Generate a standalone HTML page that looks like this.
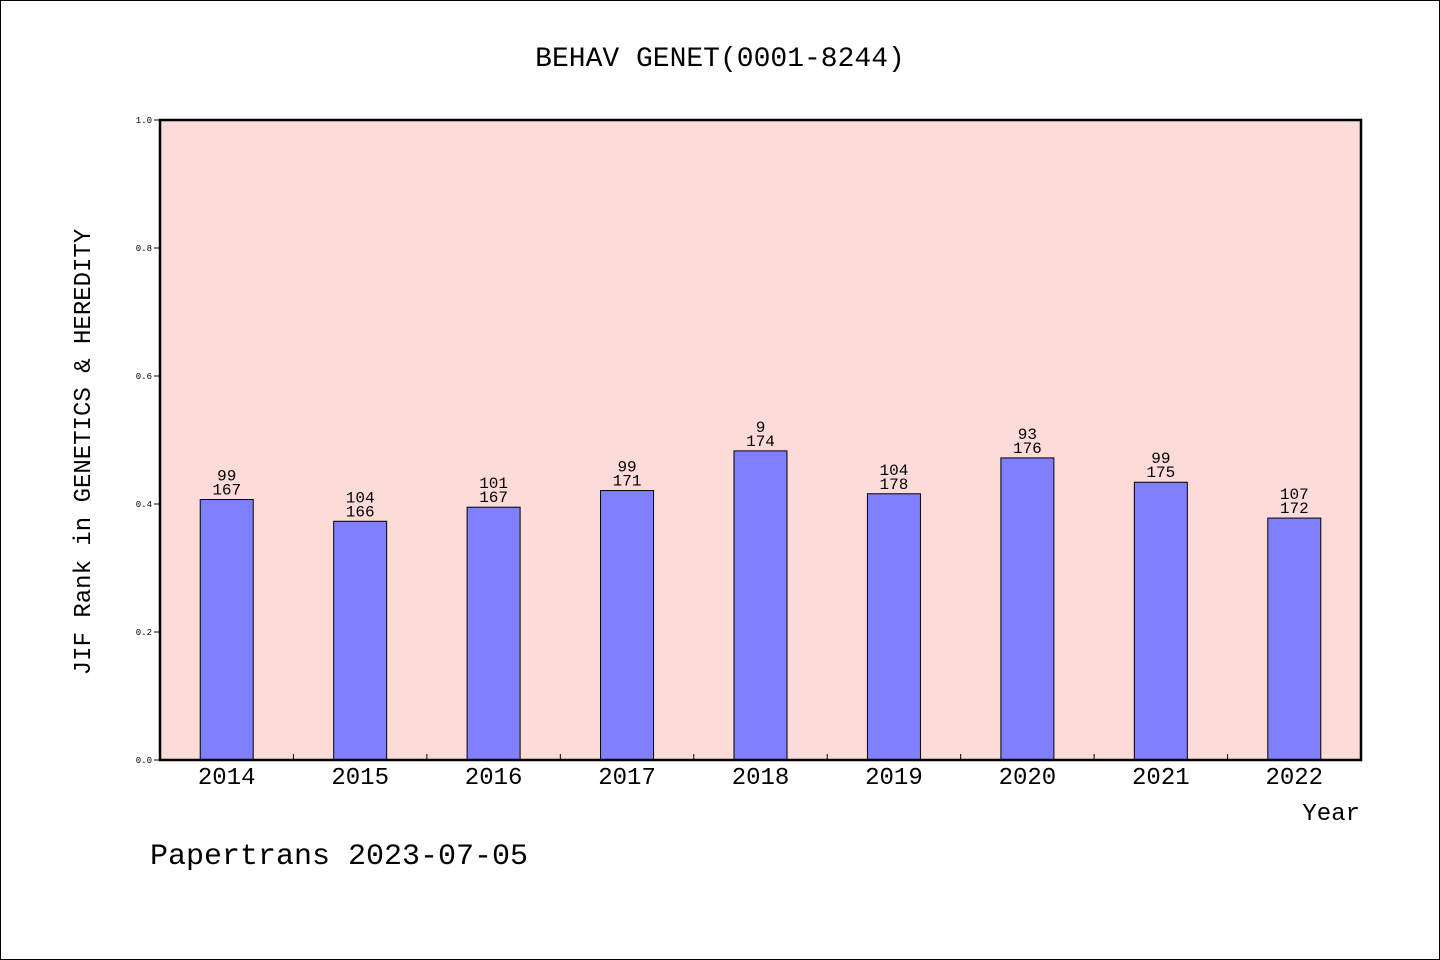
<!DOCTYPE html>
<html><head><meta charset="utf-8"><style>
body{margin:0;background:#fff}
svg{display:block}
text{font-family:"WenQuanYi Zen Hei","Liberation Mono",monospace;fill:#000}
</style></head><body>
<svg width="1440" height="960" id="c">
<rect x="0.5" y="0.5" width="1439" height="959" fill="#fff" stroke="#000"/>
<text x="720" y="66" font-size="28" text-anchor="middle">BEHAV GENET(0001-8244)</text>
<rect x="160" y="120" width="1201" height="640" fill="#fddbd8"/>
<g id="bars"></g>
<rect x="160" y="120" width="1201" height="640" fill="none" stroke="#000" stroke-width="2.5"/>
<text transform="translate(90,452) rotate(-90)" font-size="24" text-anchor="middle">JIF Rank in GENETICS &amp; HEREDITY</text>
<text x="1360" y="820" font-size="24" text-anchor="end">Year</text>
<text x="150" y="864" font-size="30">Papertrans 2023-07-05</text>
</svg>
<script>
const years=["2014","2015","2016","2017","2018","2019","2020","2021","2022"];
const values=[0.407,0.373,0.395,0.421,0.483,0.416,0.472,0.434,0.378];
const ranks=["99","104","101","99","9","104","93","99","107"];
const totals=["167","166","167","171","174","178","176","175","172"];
const yTicks=[0,0.2,0.4,0.6,0.8,1.0];
const tickLabels=["0.0","0.2","0.4","0.6","0.8","1.0"];
const NS="http://www.w3.org/2000/svg";
const X0=160,W=1201,Y0=760,H=640;
const bw=W/years.length;
const y=v=>Y0-v*H;
const xc=i=>X0+bw*(i+0.5);
const g=document.getElementById('bars');
function mk(t,a){const e=document.createElementNS(NS,t);for(const k in a)e.setAttribute(k,a[k]);g.appendChild(e);return e;}
yTicks.forEach((v,i)=>{
 const l=mk('line',{x1:X0-6,x2:X0,y1:y(v),y2:y(v),stroke:'#000'});
 
 
 const t=mk('text',{x:X0-8,y:y(v)+3,'font-size':9,'text-anchor':'end'});
 t.textContent=tickLabels[i];
 
 
});
years.forEach((yr,i)=>{
 const r=mk('rect',{x:xc(i)-26.5,y:y(values[i]),width:53,height:values[i]*H,fill:'#8080ff',stroke:'#000','stroke-width':1});
 
 
 const t1=mk('text',{x:xc(i),y:y(values[i])-19,'font-size':16,'text-anchor':'middle'});
 t1.textContent=ranks[i];
 
 
 const t2=mk('text',{x:xc(i),y:y(values[i])-5,'font-size':16,'text-anchor':'middle'});
 t2.textContent=totals[i];
 
 
 const xl=mk('text',{x:xc(i),y:784,'font-size':24,'text-anchor':'middle'});
 xl.textContent=yr;
 
 
 if(i>0){const tk=mk('line',{x1:X0+bw*i,x2:X0+bw*i,y1:Y0,y2:Y0-6,stroke:'#000'});
 
 }
});
</script>
</body></html>
